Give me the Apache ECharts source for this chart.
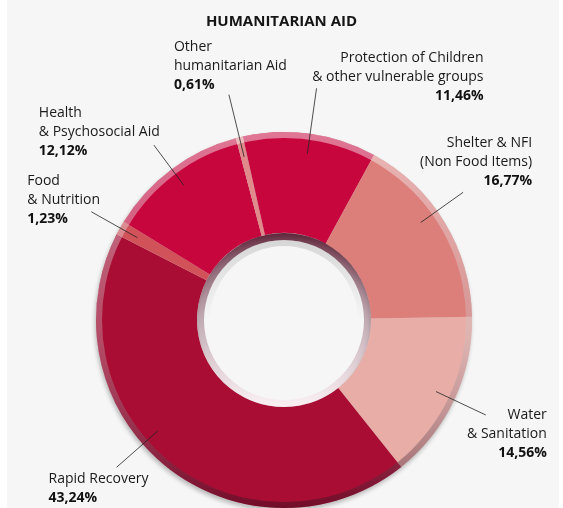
<!DOCTYPE html>
<html>
<head>
<meta charset="utf-8">
<script src="https://cdn.jsdelivr.net/npm/echarts@6/dist/echarts.min.js"></script>
<style>
  html, body { margin: 0; padding: 0; background: #ffffff; }
  #chart { width: 563px; height: 508px; }
</style>
</head>
<body>
<div id="chart"></div>
<script>
// data, clockwise from 3 o'clock
const names = [
  'Water\n& Sanitation',
  'Rapid Recovery',
  'Food\n& Nutrition',
  'Health\n& Psychosocial Aid',
  'Other\nhumanitarian Aid',
  'Protection of Children\n& other vulnerable groups',
  'Shelter & NFI\n(Non Food Items)'
];
const shares = [14.56, 43.24, 1.23, 12.12, 0.61, 11.46, 16.77];
const colors = ['#e8ada6', '#a90d34', '#d2525a', '#c7063e', '#e08a8c', '#c7063e', '#dc7e7a'];

// label placement (relative to the end of each leader line)
const lineLen = [55, 55, 53, 50, 64, 66, 52];
const lineTurn = [0, -9.4, 0, 0, 0, 0, 4.3];
const labelAlign = ['right', 'left', 'left', 'left', 'left', 'right', 'right'];
const labelDx = [61, -68, -64, -115, -55, 167, 69];
const labelDy = [-9, 2, -40, -42, -57, -40, -59];

const cx = 284, cy = 320;
const font = "'Open Sans', 'DejaVu Sans', sans-serif";

let myChart = echarts.init(document.getElementById('chart'));

const fmt = v => v.toFixed(2).replace('.', ',') + '%';

let option = {
  backgroundColor: '#f6f6f6',
  title: {
    text: 'HUMANITARIAN AID',
    left: 'center',
    top: 9,
    textStyle: { fontFamily: font, fontSize: 15, fontWeight: 'bold', color: '#151515' }
  },
  graphic: [
    { type: 'rect', shape: { x: 0, y: 0, width: 7, height: 508 }, style: { fill: '#ffffff' }, silent: true },
    { type: 'rect', shape: { x: 559, y: 0, width: 4, height: 508 }, style: { fill: '#ffffff' }, silent: true }
  ],
  series: [
    // shadow under the ring
    {
      type: 'pie', silent: true, center: [cx, cy], radius: [87, 188], z: 1,
      label: { show: false }, labelLine: { show: false },
      itemStyle: { color: '#d9d9d9', shadowBlur: 4, shadowOffsetX: -1, shadowOffsetY: 3, shadowColor: 'rgba(0,0,0,0.25)' },
      data: [{ value: 1 }]
    },
    // main ring
    {
      type: 'pie', silent: true, center: [cx, cy], radius: [87, 188], startAngle: 1, z: 2,
      avoidLabelOverlap: false,
      label: { show: false }, labelLine: { show: false },
      emphasis: { disabled: true },
      data: shares.map((v, i) => ({ value: v, name: names[i], itemStyle: { color: colors[i] } }))
    },
    // outer light band
    {
      type: 'pie', silent: true, center: [cx, cy], radius: [182, 188], z: 3,
      label: { show: false }, labelLine: { show: false },
      itemStyle: {
        color: new echarts.graphic.LinearGradient(0, 0, 0, 1, [
          { offset: 0, color: 'rgba(255,255,255,0.45)' },
          { offset: 0.55, color: 'rgba(200,190,195,0.35)' },
          { offset: 1, color: 'rgba(60,10,30,0.5)' }
        ])
      },
      data: [{ value: 1 }]
    },
    // inner shaded band
    {
      type: 'pie', silent: true, center: [cx, cy], radius: [80, 87], z: 3,
      label: { show: false }, labelLine: { show: false },
      itemStyle: {
        color: new echarts.graphic.LinearGradient(0, 0, 0, 1, [
          { offset: 0, color: 'rgba(70,0,25,0.8)' },
          { offset: 0.5, color: 'rgba(150,110,125,0.55)' },
          { offset: 1, color: 'rgba(255,235,240,0.5)' }
        ])
      },
      data: [{ value: 1 }]
    },
    // hole inner shadow
    {
      type: 'pie', silent: true, center: [cx, cy], radius: [74, 80], z: 3,
      label: { show: false }, labelLine: { show: false },
      itemStyle: {
        color: new echarts.graphic.LinearGradient(0, 0, 0, 1, [
          { offset: 0, color: 'rgba(0,0,0,0.13)' },
          { offset: 0.35, color: 'rgba(0,0,0,0.04)' },
          { offset: 0.5, color: 'rgba(0,0,0,0)' }
        ])
      },
      data: [{ value: 1 }]
    },
    // labels + leader lines
    {
      type: 'pie', silent: true, center: [cx, cy], radius: [0, 168], startAngle: 1, z: 4,
      avoidLabelOverlap: false,
      itemStyle: { color: 'transparent' },
      emphasis: { disabled: true },
      label: {
        show: true,
        position: 'outside',
        formatter: p => p.name.split('\n').map(s => '{n|' + s + '}').join('\n') + '\n{v|' + fmt(p.value) + '}',
        rich: {
          n: { fontFamily: font, fontSize: 14, lineHeight: 19, color: '#1a1a1a' },
          v: { fontFamily: font, fontSize: 14, lineHeight: 19, fontWeight: 'bold', color: '#111' }
        }
      },
      labelLine: { show: true, length2: 0, lineStyle: { color: '#222', width: 0.8 } },
      labelLayout: function (params) {
        const i = params.dataIndex;
        const t = lineTurn[i] * Math.PI / 180;
        const pts = (params.labelLinePoints || []).map(pt => {
          const dx = pt[0] - cx, dy = pt[1] - cy;
          return [cx + dx * Math.cos(t) + dy * Math.sin(t), cy - dx * Math.sin(t) + dy * Math.cos(t)];
        });
        const end = pts[1] || [cx, cy];
        return {
          x: end[0] + labelDx[i],
          y: end[1] + labelDy[i],
          align: labelAlign[i],
          verticalAlign: 'top',
          labelLinePoints: [pts[0], pts[1], pts[1]]
        };
      },
      data: shares.map((v, i) => ({ value: v, name: names[i], labelLine: { length: lineLen[i] } }))
    }
  ]
};

myChart.setOption(option);
</script>
</body>
</html>
